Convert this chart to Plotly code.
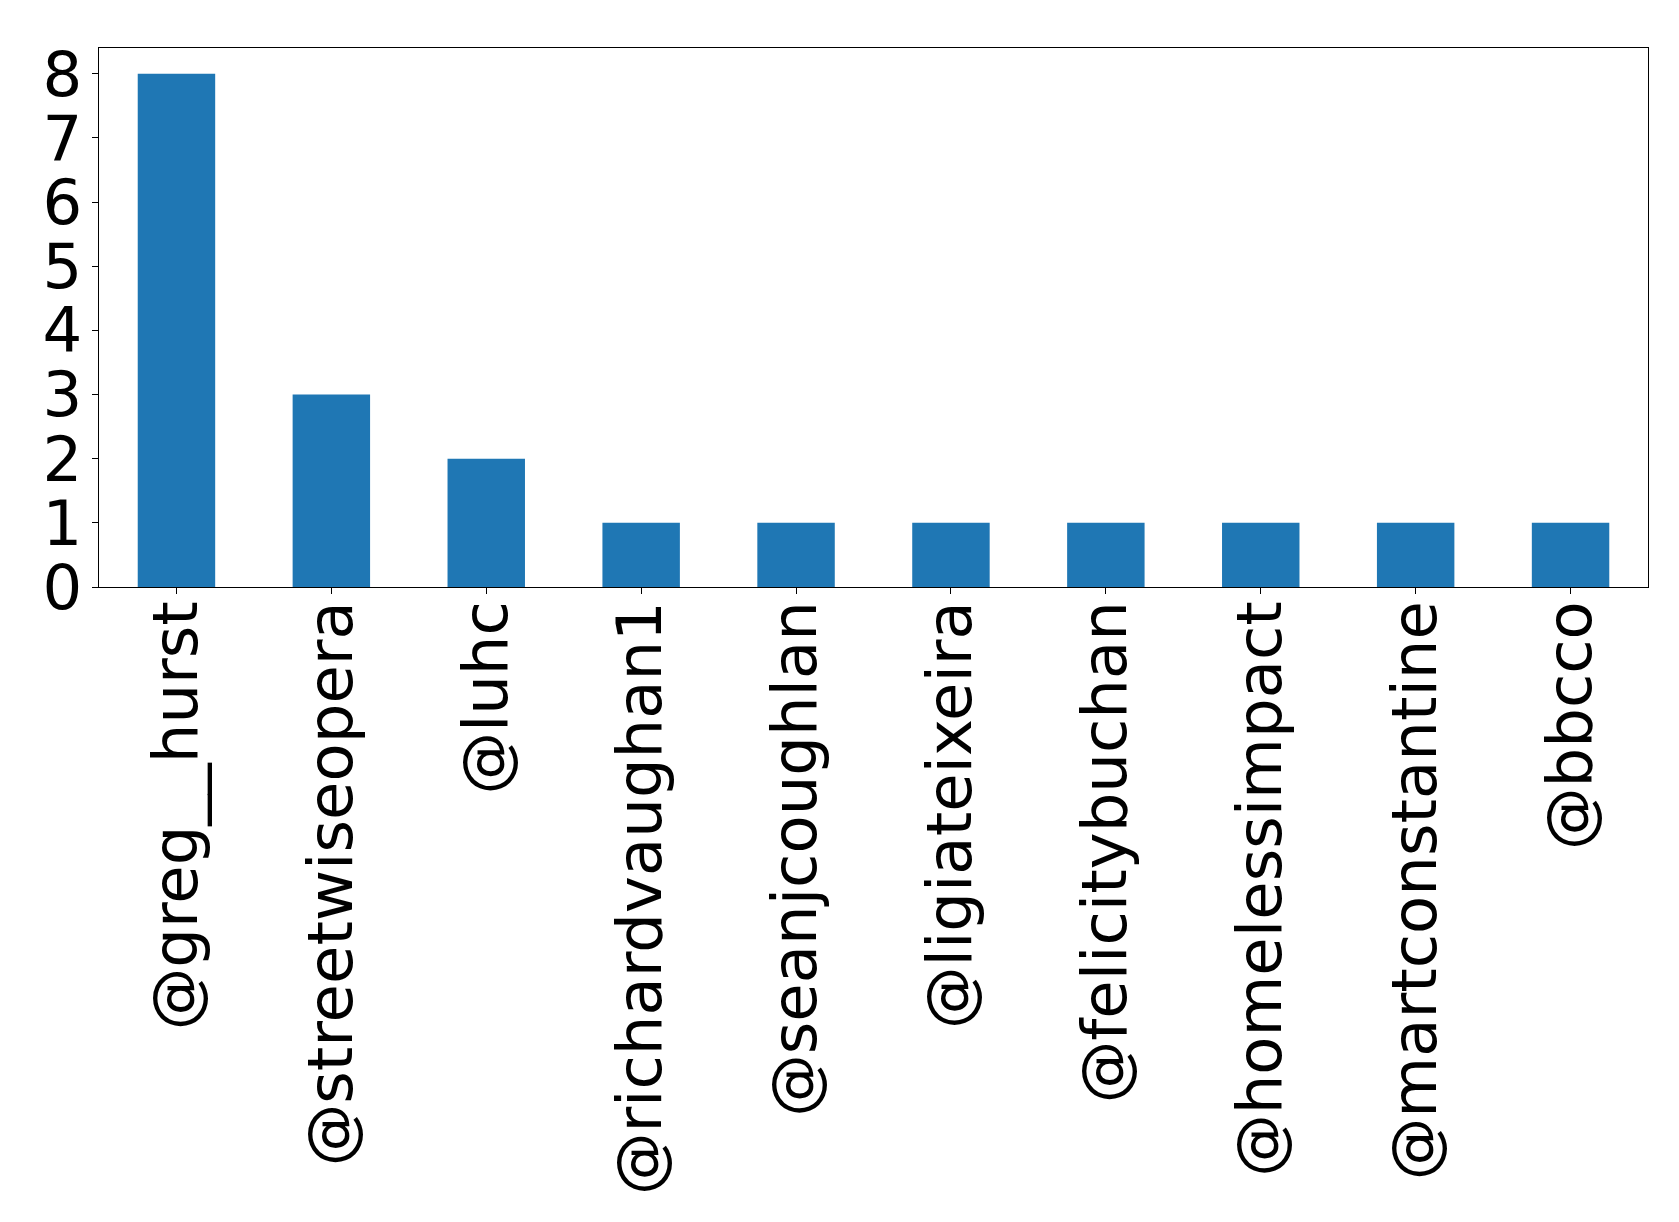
import plotly.graph_objects as go

handles = ["@greg__hurst", "@streetwiseopera", "@luhc", "@richardvaughan1",
           "@seanjcoughlan", "@ligiateixeira", "@felicitybuchan",
           "@homelessimpact", "@martconstantine", "@bbcco"]
counts = [8, 3, 2, 1, 1, 1, 1, 1, 1, 1]
y_ticks = [0, 1, 2, 3, 4, 5, 6, 7, 8]

fig = go.Figure(go.Bar(x=handles, y=counts, width=0.5,
                       marker=dict(color="#1f77b4", line=dict(width=0))))

fig.update_layout(
    width=1679, height=1222,
    margin=dict(l=91, r=39, t=40, b=643, pad=0),
    paper_bgcolor="white", plot_bgcolor="white",
    font=dict(family="DejaVu Sans", size=62, color="black"),
    showlegend=False,
)
fig.update_xaxes(
    range=[-0.5, 9.5], tickangle=-90, showline=True, linecolor="black",
    linewidth=1.3, mirror=True, ticks="outside", ticklen=6, tickwidth=1.3,
    tickcolor="black", showgrid=False, ticklabelstandoff=-18,
    tickfont=dict(family="DejaVu Sans", size=62.5),
)
fig.update_yaxes(
    range=[0, 8.4], tickvals=y_ticks, showline=True, linecolor="black",
    linewidth=1.3, mirror=True, ticks="outside", ticklen=6, tickwidth=1.3,
    tickcolor="black", showgrid=False, zeroline=False, ticklabelstandoff=-3,
    tickfont=dict(family="DejaVu Sans", size=62.5),
)

fig.write_html("out.html")
